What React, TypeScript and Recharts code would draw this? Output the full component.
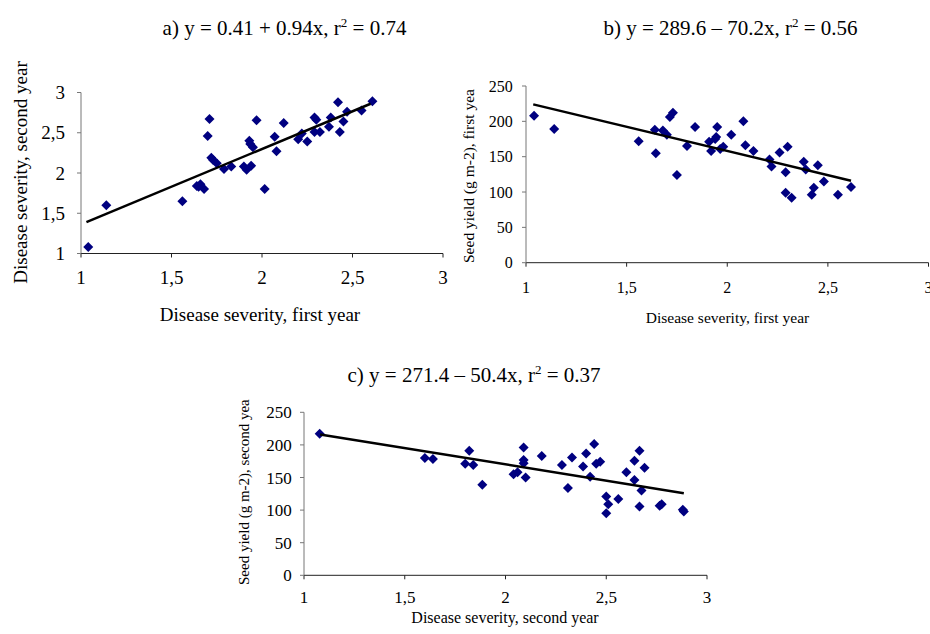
import React from 'react';
import { ScatterChart, Scatter, XAxis, YAxis } from 'recharts';

// a) disease severity, first year vs second year
const aFirstYear = [1.04, 1.14, 1.56, 1.64, 1.65, 1.66, 1.68, 1.70, 1.71, 1.72, 1.73, 1.75, 1.79, 1.83, 1.90, 1.915, 1.94, 1.93, 1.935, 1.95, 1.97, 2.015, 2.07, 2.08, 2.12, 2.20, 2.22, 2.25, 2.29, 2.30, 2.29, 2.32, 2.37, 2.38, 2.42, 2.43, 2.45, 2.47, 2.55, 2.61];
const aSecondYear = [1.08, 1.60, 1.65, 1.84, 1.83, 1.86, 1.80, 2.46, 2.67, 2.19, 2.16, 2.12, 2.05, 2.08, 2.08, 2.04, 2.09, 2.40, 2.36, 2.32, 2.655, 1.80, 2.45, 2.27, 2.62, 2.42, 2.49, 2.39, 2.69, 2.66, 2.51, 2.51, 2.575, 2.69, 2.88, 2.51, 2.64, 2.76, 2.775, 2.89];
const aTrendX = [1.03, 2.6];
const aTrendY = [1.39, 2.86];

// b) disease severity, first year vs seed yield, first year
const bSeverity = [1.04, 1.14, 1.56, 1.64, 1.645, 1.68, 1.70, 1.715, 1.73, 1.75, 1.80, 1.84, 1.91, 1.92, 1.95, 1.945, 1.94, 1.965, 1.98, 2.02, 2.08, 2.09, 2.13, 2.21, 2.22, 2.26, 2.30, 2.29, 2.29, 2.32, 2.38, 2.39, 2.45, 2.43, 2.42, 2.48, 2.55, 2.615];
const bYield = [208, 189, 172, 188, 155, 187, 181, 206, 212, 124, 165, 192, 171, 158, 192, 178, 175, 161, 164, 181, 200, 166, 158, 146, 136, 156, 164, 128, 99, 92, 143, 132, 138, 106, 96, 115, 96, 107];
const bTrendX = [1.036, 2.615];
const bTrendY = [224, 116];

// c) disease severity, second year vs seed yield, second year
const cSeverity = [1.078, 1.60, 1.64, 1.80, 1.82, 1.84, 1.885, 2.04, 2.06, 2.09, 2.09, 2.09, 2.10, 2.18, 2.28, 2.31, 2.33, 2.385, 2.40, 2.42, 2.44, 2.45, 2.47, 2.50, 2.51, 2.50, 2.56, 2.60, 2.64, 2.64, 2.665, 2.69, 2.675, 2.665, 2.765, 2.775, 2.88, 2.885];
const cYield = [217, 180, 178.5, 171, 191, 169, 139, 155, 158, 196, 177, 172, 150, 183, 169, 134, 180.5, 167, 187, 151, 201.5, 171, 174, 121, 109, 95, 117, 158, 146, 175.5, 191, 165, 130, 105.6, 106.6, 109, 100.5, 98];
const cTrendX = [1.08, 2.885];
const cTrendY = [216, 126];

const severityTicks = [1, 1.5, 2, 2.5, 3];
const yieldTicks = [0, 50, 100, 150, 200, 250];

const FONT = '"Liberation Serif", "Times New Roman", serif';

const pairs = (xs: number[], ys: number[]) => xs.map((x, i) => ({ x, y: ys[i] }));
const comma = (v: number) => String(v).replace('.', ',');

const Diamond = (props: any) => {
  const { cx, cy } = props;
  const r = 5;
  return <polygon points={`${cx},${cy - r} ${cx + r},${cy} ${cx},${cy + r} ${cx - r},${cy}`} fill="#000080" />;
};

interface PanelProps {
  left: number;
  top: number;
  width: number;
  height: number;
  margin: { top: number; right: number; bottom: number; left: number };
  points: { x: number; y: number }[];
  trend: { x: number; y: number }[];
  yDomain: [number, number];
  yTicks: number[];
  fontSize: number;
  xTickMargin: number;
  yTickMargin: number;
}

function Panel(p: PanelProps) {
  const tick = { fontSize: p.fontSize, fill: '#000', fontFamily: FONT };
  return (
    <div style={{ position: 'absolute', left: p.left, top: p.top }}>
      <ScatterChart width={p.width} height={p.height} margin={p.margin}>
        <XAxis type="number" dataKey="x" domain={[1, 3]} ticks={severityTicks} interval={0}
          tickFormatter={comma} tick={tick} tickSize={4} tickMargin={p.xTickMargin} height={40}
          axisLine={{ stroke: '#222' }} tickLine={{ stroke: '#222' }} />
        <YAxis type="number" dataKey="y" domain={p.yDomain} ticks={p.yTicks} interval={0}
          tickFormatter={comma} tick={tick} tickSize={4} tickMargin={p.yTickMargin} width={50}
          axisLine={{ stroke: '#777' }} tickLine={{ stroke: '#777' }} />
        <Scatter data={p.points} shape={Diamond} isAnimationActive={false} />
        <Scatter data={p.trend} line={{ stroke: '#000', strokeWidth: 2.5 }} shape={() => <g />}
          isAnimationActive={false} />
      </ScatterChart>
    </div>
  );
}

export default function App() {
  return (
    <div style={{ position: 'absolute', left: 0, top: 0, width: 930, height: 634, overflow: 'hidden', background: '#fff' }}>
      <Panel left={0} top={0} width={470} height={300}
        margin={{ top: 92.5, right: 27, bottom: 6.5, left: 31 }}
        points={pairs(aFirstYear, aSecondYear)} trend={pairs(aTrendX, aTrendY)}
        yDomain={[1, 3]} yTicks={severityTicks} fontSize={19} xTickMargin={13.5} yTickMargin={12} />
      <Panel left={460} top={0} width={470} height={310}
        margin={{ top: 86, right: 1.5, bottom: 7.3, left: 16 }}
        points={pairs(bSeverity, bYield)} trend={pairs(bTrendX, bTrendY)}
        yDomain={[0, 250]} yTicks={yieldTicks} fontSize={16} xTickMargin={14.6} yTickMargin={9.3} />
      <Panel left={230} top={340} width={500} height={290}
        margin={{ top: 72.3, right: 23, bottom: 14.7, left: 24 }}
        points={pairs(cSeverity, cYield)} trend={pairs(cTrendX, cTrendY)}
        yDomain={[0, 250]} yTicks={yieldTicks} fontSize={17} xTickMargin={12} yTickMargin={8.3} />

      <svg width={930} height={634} style={{ position: 'absolute', left: 0, top: 0, pointerEvents: 'none' }}
        fontFamily={FONT} fill="#000">
        <text x={284.5} y={35} fontSize={21} textAnchor="middle">
          a) y = 0.41 + 0.94x, r<tspan fontSize={13} dy={-8}>2</tspan><tspan dy={8}> = 0.74</tspan>
        </text>
        <text x={730.5} y={35} fontSize={21} textAnchor="middle">
          b) y = 289.6 – 70.2x, r<tspan fontSize={13} dy={-8}>2</tspan><tspan dy={8}> = 0.56</tspan>
        </text>
        <text x={474} y={381.5} fontSize={21} textAnchor="middle">
          c) y = 271.4 – 50.4x, r<tspan fontSize={13} dy={-8}>2</tspan><tspan dy={8}> = 0.37</tspan>
        </text>

        <text x={260} y={320.5} fontSize={19} textAnchor="middle">Disease severity, first year</text>
        <text x={727.5} y={323} fontSize={15.5} textAnchor="middle">Disease severity, first year</text>
        <text x={505} y={623} fontSize={16} textAnchor="middle">Disease severity, second year</text>

        <text transform="translate(27,172.5) rotate(-90)" fontSize={19} textAnchor="middle">
          Disease severity, second year
        </text>
        <text transform="translate(474,263) rotate(-90)" fontSize={15.5} textAnchor="start">
          Seed yield (g m-2), first yea
        </text>
        <text transform="translate(249,585) rotate(-90)" fontSize={15} textAnchor="start">
          Seed yield (g m-2), second yea
        </text>
      </svg>
    </div>
  );
}
